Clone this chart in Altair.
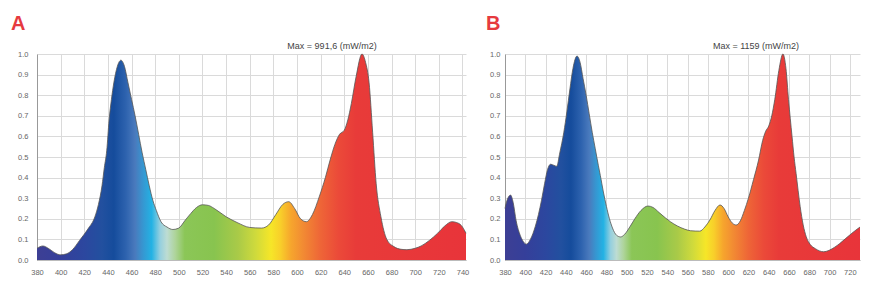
import altair as alt
import pandas as pd

# ---------------- data ----------------
wl_a = [380, 385, 390, 395, 400, 405, 410, 416, 423, 429, 432, 435, 437, 439, 441, 443, 445, 448,
        451, 454, 457, 460, 463, 466, 469, 472, 475, 478, 481, 485, 490, 495, 500, 505, 510, 515,
        520, 525, 530, 540, 550, 560, 570, 576, 582, 588, 593, 598, 603, 608, 613, 619, 624, 628,
        632, 636, 640, 643, 646, 650, 655, 658, 661, 664, 667, 671, 676, 682, 688, 693, 700, 705,
        712, 719, 725, 731, 735, 739, 743]
val_a = [0.057, 0.068, 0.055, 0.035, 0.025, 0.03, 0.05, 0.095, 0.15, 0.21, 0.27, 0.36, 0.45, 0.53,
         0.68, 0.78, 0.86, 0.94, 0.97, 0.94, 0.86, 0.78, 0.70, 0.61, 0.52, 0.44, 0.36, 0.29, 0.24,
         0.185, 0.16, 0.148, 0.155, 0.19, 0.225, 0.255, 0.268, 0.265, 0.25, 0.21, 0.18, 0.158,
         0.155, 0.17, 0.22, 0.27, 0.283, 0.25, 0.20, 0.186, 0.22, 0.31, 0.40, 0.485, 0.56, 0.61,
         0.63, 0.68, 0.76, 0.89, 1.0, 0.96, 0.86, 0.62, 0.37, 0.21, 0.10, 0.065, 0.052, 0.05,
         0.057, 0.068, 0.095, 0.13, 0.165, 0.186, 0.182, 0.168, 0.13]

wl_b = [380, 382, 385.5, 388, 391, 395, 398, 401, 405, 410, 416, 419, 422, 425, 428, 431, 434, 438,
        441, 444, 447, 451, 454, 457, 460, 463, 466, 469, 472, 474, 477, 480, 483, 486, 490, 494,
        498, 503, 508, 514, 521, 526, 532, 538, 543, 550, 557, 563, 572, 577, 582, 587, 592, 596,
        600, 604, 608, 612, 616, 620, 625, 630, 634, 637, 640, 643, 646, 650, 654, 657, 659.5, 663,
        665, 667, 671, 674, 677, 681, 686, 694, 700, 705, 710, 716, 722, 730]
val_b = [0.25, 0.29, 0.315, 0.28, 0.19, 0.12, 0.09, 0.077, 0.10, 0.165, 0.29, 0.37, 0.44, 0.465,
         0.46, 0.455, 0.52, 0.62, 0.72, 0.83, 0.93, 0.99, 0.96, 0.88, 0.80, 0.71, 0.62, 0.54, 0.46,
         0.41, 0.33, 0.26, 0.20, 0.155, 0.12, 0.112, 0.125, 0.16, 0.20, 0.24, 0.262, 0.255, 0.23,
         0.205, 0.186, 0.165, 0.15, 0.142, 0.14, 0.16, 0.194, 0.24, 0.267, 0.25, 0.21, 0.18, 0.17,
         0.19, 0.24, 0.30, 0.39, 0.485, 0.58, 0.625, 0.65, 0.70, 0.78, 0.92, 1.0, 0.93, 0.78, 0.60,
         0.50, 0.42, 0.26, 0.17, 0.113, 0.075, 0.055, 0.04, 0.048, 0.062, 0.08, 0.105, 0.13, 0.16]

# spectrum colour stops (wavelength nm, colour)
spec_nm = [380, 400, 420, 435, 445, 455, 463, 470, 477, 484, 490, 497, 505, 530, 550, 565,
           578, 586, 595, 605, 620, 635, 650, 745]
spec_col = ["#3d3f94", "#353f9a", "#2c479f", "#22509f", "#154c9c", "#2d62ae", "#4a7abd", "#3598d2",
            "#23b2e4", "#94cfdf", "#bddcd3", "#aed49a", "#8bc657", "#88c44f", "#a9ca48", "#cfda3c",
            "#f6e628", "#f8cf2a", "#f6a52d", "#f28b33", "#ee6537", "#eb4a39", "#e83b39", "#e8343a"]

titles = ["A", "B"]
max_texts = ["Max = 991,6 (mW/m2)", "Max = 1159 (mW/m2)"]
max_px = [295, 251]          # horizontal position of the "Max" note inside each panel
x_max = [743, 730]
x_ticks = [list(range(380, 741, 20)), list(range(380, 721, 20))]
y_ticks = [round(i * 0.1, 1) for i in range(11)]

LABEL_FONT = "Liberation Sans"


def gradient(lo, hi):
    stops = []
    for nm, c in zip(spec_nm, spec_col):
        off = (nm - lo) / (hi - lo)
        stops.append(alt.GradientStop(offset=max(0.0, min(1.0, off)), color=c))
    return alt.Gradient(gradient="linear", stops=stops, x1=0, x2=1, y1=0, y2=0)


def panel(i, wl, vals, width, extent, label_pad, title_dx):
    df = pd.DataFrame({"nm": wl, "v": vals})
    xs = alt.Scale(domain=[380, x_max[i]], nice=False, zero=False)
    ys = alt.Scale(domain=[0, 1], nice=False)
    area = alt.Chart(df).mark_area(
        color=gradient(380, x_max[i]),
        interpolate="monotone",
        line={"color": "#555555", "strokeWidth": 0.8},
        opacity=1,
    ).encode(
        x=alt.X("nm:Q", scale=xs, title=None,
                axis=alt.Axis(values=x_ticks[i], grid=True, gridColor="#dadada", labelFont=LABEL_FONT,
                              labelFontSize=7.5, labelColor="#666666", domainColor="#bbbbbb", ticks=False,
                              labelPadding=8, labelFlush=False, labelOverlap=False, labelBound=False,
                              labelSeparation=0)),
        y=alt.Y("v:Q", scale=ys, title=None,
                axis=alt.Axis(values=y_ticks, format=".1f", grid=True, gridColor="#dadada",
                              labelFont=LABEL_FONT, labelFontSize=7.5, labelColor="#666666",
                              domainColor="#999999", ticks=False, labelPadding=label_pad,
                              labelOverlap=False, minExtent=extent, maxExtent=extent)),
    )
    txt = alt.Chart(pd.DataFrame({"t": [max_texts[i]]})).mark_text(
        font="Liberation Sans", fontSize=9, color="#444444", baseline="middle", align="center"
    ).encode(x=alt.value(max_px[i]), y=alt.value(-8.5), text="t:N")
    return alt.layer(area, txt).properties(
        width=width, height=206,
        title=alt.TitleParams(titles[i], anchor="start", frame="group", dx=title_dx, fontSize=20,
                              fontWeight="bold", color="#e63a3f", font="Liberation Sans", offset=8),
    )


pa = panel(0, wl_a, val_a, 429, 29, 9, -26)
pb = panel(1, wl_b, val_b, 355, 20, 5, -19)

chart = alt.hconcat(pa, pb, spacing=16).properties(
    padding={"left": 0, "top": 5, "right": 0, "bottom": 0}
).configure_view(stroke=None)

chart.save("out.html", embed_options={"renderer": "svg", "actions": False})
